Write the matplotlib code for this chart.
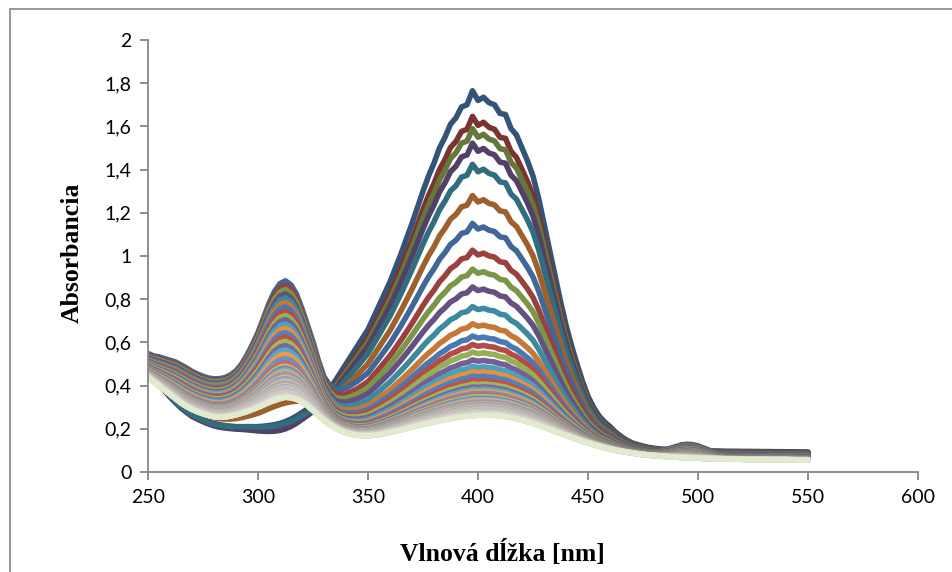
import numpy as np
import matplotlib
matplotlib.use("Agg")
import matplotlib.pyplot as plt
from matplotlib.patches import Rectangle
from matplotlib.ticker import FuncFormatter, MultipleLocator
from matplotlib.colors import to_rgb

# vlnové dĺžky [nm], krok 2,5 nm
vlnova_dlzka = np.arange(250, 550.1, 2.5)

# prvé spektrum (t = 0)
spektrum_zaciatok = [
    0.47, 0.445, 0.42, 0.39, 0.36, 0.335, 0.31, 0.29, 0.27, 0.257,      # 250
    0.245, 0.234, 0.225, 0.219, 0.215, 0.212, 0.21, 0.21, 0.21, 0.21,   # 275
    0.21, 0.212, 0.215, 0.219, 0.225, 0.234, 0.245, 0.259, 0.275, 0.292,  # 300
    0.31, 0.331, 0.355, 0.385, 0.42, 0.46, 0.50, 0.54, 0.58, 0.62,      # 325
    0.66, 0.715, 0.77, 0.825, 0.88, 0.945, 1.01, 1.08, 1.15, 1.225,     # 350
    1.30, 1.37, 1.43, 1.50, 1.55, 1.61, 1.64, 1.69, 1.70, 1.765,        # 375
    1.72, 1.735, 1.71, 1.70, 1.66, 1.655, 1.59, 1.56, 1.50, 1.44,       # 400
    1.37, 1.27, 1.15, 1.03, 0.91, 0.79, 0.68, 0.585, 0.50, 0.42,        # 425
    0.35, 0.30, 0.26, 0.232, 0.21, 0.185, 0.165, 0.148, 0.135, 0.127,   # 450
    0.12, 0.114, 0.11, 0.107, 0.105, 0.102, 0.10, 0.10, 0.10, 0.10,     # 475
    0.099, 0.0985, 0.098, 0.0975, 0.097, 0.0965, 0.096, 0.096, 0.0955, 0.0955,  # 500
    0.095, 0.095, 0.0945, 0.0945, 0.094, 0.094, 0.0935, 0.0935, 0.093, 0.093,   # 525
    0.093,                                                              # 550
]

# posledné spektrum
spektrum_koniec = [
    0.44, 0.42, 0.40, 0.38, 0.36, 0.34, 0.32, 0.304, 0.29, 0.279,
    0.27, 0.262, 0.256, 0.254, 0.255, 0.259, 0.265, 0.272, 0.28, 0.29,
    0.30, 0.312, 0.325, 0.336, 0.343, 0.346, 0.344, 0.337, 0.325, 0.307,
    0.285, 0.262, 0.24, 0.221, 0.205, 0.192, 0.182, 0.175, 0.17, 0.168,
    0.168, 0.17, 0.173, 0.178, 0.183, 0.189, 0.195, 0.201, 0.208, 0.214,
    0.22, 0.226, 0.231, 0.237, 0.242, 0.247, 0.251, 0.255, 0.258, 0.26,
    0.262, 0.263, 0.263, 0.262, 0.26, 0.256, 0.252, 0.246, 0.24, 0.233,
    0.225, 0.216, 0.207, 0.198, 0.188, 0.179, 0.17, 0.161, 0.152, 0.143,
    0.135, 0.127, 0.12, 0.113, 0.107, 0.101, 0.096, 0.092, 0.088, 0.084,
    0.081, 0.078, 0.076, 0.074, 0.072, 0.07, 0.069, 0.067, 0.066, 0.065,
    0.064, 0.063, 0.062, 0.0615, 0.061, 0.0605, 0.060, 0.0595, 0.059, 0.0585,
    0.058, 0.058, 0.058, 0.0575, 0.057, 0.057, 0.057, 0.0565, 0.056, 0.056,
    0.056,
]

# pás medziproduktu s maximom okolo 312 nm (normovaný na 1)
pas_310 = [
    0.15, 0.17, 0.20, 0.23, 0.26, 0.285, 0.30, 0.307, 0.31, 0.31,
    0.31, 0.313, 0.32, 0.328, 0.34, 0.36, 0.39, 0.435, 0.50, 0.575,
    0.66, 0.76, 0.86, 0.94, 0.99, 1.0, 0.96, 0.88, 0.76, 0.63,
    0.50, 0.35, 0.22, 0.14, 0.08, 0.05, 0.03, 0.02, 0.01, 0.005,
    0, 0, 0, 0, 0, 0, 0, 0, 0, 0,
    0, 0, 0, 0, 0, 0, 0, 0, 0, 0,
    0, 0, 0, 0, 0, 0, 0, 0, 0, 0,
    0, 0, 0, 0, 0, 0, 0, 0, 0, 0,
    0, 0, 0, 0, 0, 0, 0, 0, 0, 0,
    0, 0, 0, 0.01, 0.02, 0.035, 0.05, 0.065, 0.07, 0.068,
    0.06, 0.045, 0.03, 0.015, 0.005, 0, 0, 0, 0, 0,
    0, 0, 0, 0, 0, 0, 0, 0, 0, 0,
    0,
]

# absorbancia jednotlivých meraní pri 400 nm
abs_400 = [
    1.72, 1.605, 1.55, 1.485, 1.39, 1.25, 1.125, 1.005, 0.92, 0.84,
    0.752, 0.675, 0.62, 0.582, 0.548, 0.513, 0.484, 0.46, 0.44, 0.42,
    0.405,
    0.392, 0.381, 0.371, 0.362, 0.354, 0.347, 0.340, 0.334, 0.328, 0.323,
    0.318, 0.313, 0.309, 0.305, 0.301, 0.298, 0.295, 0.292, 0.289, 0.287,
    0.285, 0.283, 0.281, 0.279, 0.277, 0.275, 0.274, 0.273, 0.272, 0.271,
    0.270, 0.269, 0.268, 0.267, 0.266, 0.265, 0.2645, 0.264, 0.2635, 0.263,
    0.2625, 0.262,
]

# absorbancia jednotlivých meraní v maxime okolo 312 nm
abs_312 = [
    0.234, 0.22, 0.215, 0.20, 0.225, 0.32,
    0.885, 0.865, 0.845, 0.825, 0.805, 0.785, 0.765, 0.745, 0.725, 0.705,
    0.685, 0.665, 0.645, 0.625, 0.605, 0.585, 0.565, 0.545, 0.525, 0.505,
    0.490, 0.481, 0.472, 0.463, 0.455, 0.447, 0.439, 0.432, 0.425, 0.418,
    0.412, 0.406, 0.400, 0.395, 0.390, 0.385, 0.381, 0.377, 0.373, 0.370,
    0.367, 0.364, 0.361, 0.359, 0.357, 0.355, 0.353, 0.3515, 0.350, 0.349,
    0.348, 0.3475, 0.347, 0.3466, 0.3463, 0.3461, 0.346,
]

E = np.array(spektrum_zaciatok)
L = np.array(spektrum_koniec)
B = np.array(pas_310)
i400 = int(np.argmin(np.abs(vlnova_dlzka - 400)))
i312 = int(np.argmin(np.abs(vlnova_dlzka - 312.5)))

# farby radov ako v Exceli: 6 akcentov, skupiny od tmavších po svetlé
akcenty = ["#4F81BD", "#C0504D", "#9BBB59", "#8064A2", "#4BACC6", "#F79646"]
odtiene = [-0.36, -0.2, -0.06, 0.0, 0.14, 0.28, 0.4, 0.5, 0.58, 0.65, 0.7]


def farba(i):
    c = np.array(to_rgb(akcenty[i % 6]))
    t = odtiene[min(i // 6, len(odtiene) - 1)]
    if t < 0:
        return tuple(c * (1 + t))
    return tuple(c + (1 - c) * t)


fig = plt.figure(figsize=(9.52, 5.72), dpi=100)
ax = fig.add_axes([148 / 952, 100 / 572, 770 / 952, 432 / 572])

for i, (a400, a312) in enumerate(zip(abs_400, abs_312)):
    u = (a400 - L[i400]) / (E[i400] - L[i400])
    zaklad = L + u * (E - L)
    v = (a312 - zaklad[i312]) / B[i312]
    ax.plot(vlnova_dlzka, zaklad + v * B, color=farba(i), linewidth=4.0,
            solid_capstyle="round", solid_joinstyle="round")

ax.set_xlim(250, 600)
ax.set_ylim(0, 2)
ax.xaxis.set_major_locator(MultipleLocator(50))
ax.yaxis.set_major_locator(MultipleLocator(0.2))
ax.yaxis.set_major_formatter(
    FuncFormatter(lambda y, p: f"{y:.1f}".rstrip("0").rstrip(".").replace(".", ","))
)

for s in ["top", "right"]:
    ax.spines[s].set_visible(False)
for s in ["left", "bottom"]:
    ax.spines[s].set_color("#868686")
    ax.spines[s].set_linewidth(1.3)
ax.tick_params(direction="out", length=6, width=1.3, color="#868686",
               labelsize=14, pad=6)
for lab in ax.get_xticklabels() + ax.get_yticklabels():
    lab.set_family("Lato")

fig.text(72 / 952, 1 - 253 / 572, "Absorbancia", rotation=90, ha="center",
         va="center", family="Liberation Serif", weight="bold", fontsize=18.5)
fig.text(502 / 952, 1 - 553 / 572, "Vlnová dĺžka [nm]", ha="center",
         va="center", family="Liberation Serif", weight="bold", fontsize=18.5)

# rámček grafu
fig.add_artist(Rectangle((10 / 952, -0.1), 1.2, 1 - 9 / 572 + 0.1,
                         transform=fig.transFigure, fill=False,
                         edgecolor="#868686", linewidth=1.2))

fig.savefig("out.png", dpi=100)
